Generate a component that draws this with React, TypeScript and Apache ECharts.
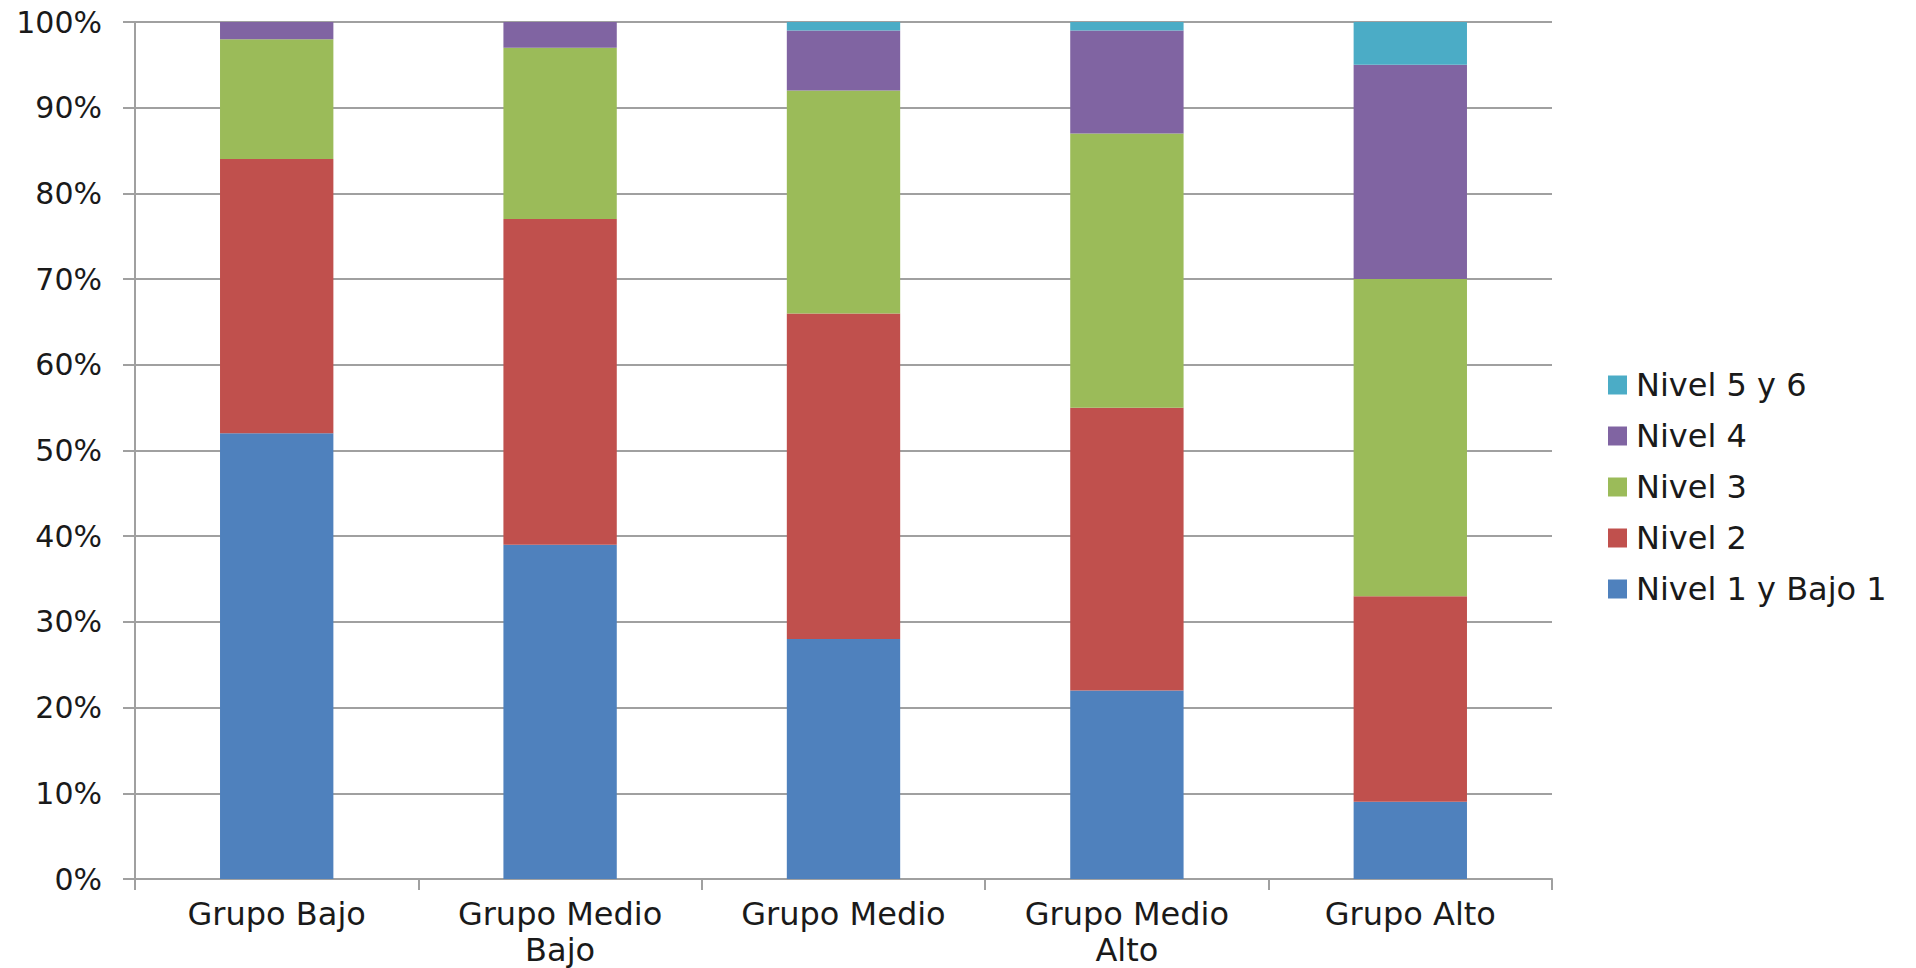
import React, { useEffect, useRef } from "react";
import * as echarts from "echarts";

const categories = ["Grupo Bajo", "Grupo Medio\nBajo", "Grupo Medio", "Grupo Medio\nAlto", "Grupo Alto"];
const seriesNames = ["Nivel 1 y Bajo 1", "Nivel 2", "Nivel 3", "Nivel 4", "Nivel 5 y 6"];
const nivel1 = [52, 39, 28, 22, 9];
const nivel2 = [32, 38, 38, 33, 24];
const nivel3 = [14, 20, 26, 32, 37];
const nivel4 = [2, 3, 7, 12, 25];
const nivel56 = [0, 0, 1, 1, 5];
const colors = ["#4F81BD", "#C0504D", "#9BBB59", "#8064A2", "#4BACC6"];
const yTicks = [0, 10, 20, 30, 40, 50, 60, 70, 80, 90, 100];

const FONT = "DejaVu Sans";

export default function App() {
  const ref = useRef<HTMLDivElement>(null);
  useEffect(() => {
    document.body.style.margin = "0";
    document.body.style.overflow = "hidden";
    const chart = echarts.init(ref.current!, null, { renderer: "svg" });
    const values = [nivel1, nivel2, nivel3, nivel4, nivel56];
    chart.setOption({
      animation: false,
      backgroundColor: "#ffffff",
      grid: { left: 135, right: 364, top: 22, bottom: 89, containLabel: false, outerBoundsMode: "none" },
      legend: {
        data: [...seriesNames].reverse(),
        orient: "vertical",
        left: 1603,
        top: 364,
        itemWidth: 19,
        itemHeight: 19,
        itemGap: 19,
        icon: "rect",
        textStyle: { fontFamily: FONT, fontSize: 32, color: "#1a1a1a", padding: [0, 0, 0, 4] },
      },
      xAxis: {
        type: "category",
        data: categories,
        axisLine: { show: true, lineStyle: { color: "#a0a0a0", width: 2 } },
        axisTick: { show: true, alignWithLabel: false, length: 11, lineStyle: { color: "#a0a0a0", width: 2 } },
        axisLabel: {
          fontFamily: FONT,
          fontSize: 32,
          color: "#1a1a1a",
          margin: 17,
          lineHeight: 36,
          interval: 0,
        },
      },
      yAxis: {
        type: "value",
        min: yTicks[0],
        max: yTicks[yTicks.length - 1],
        interval: 10,
        axisLine: { show: true, lineStyle: { color: "#a0a0a0", width: 2 } },
        axisTick: { show: true, length: 12, lineStyle: { color: "#a0a0a0", width: 2 } },
        splitLine: { show: true, lineStyle: { color: "#a0a0a0", width: 2 } },
        axisLabel: {
          fontFamily: FONT,
          fontSize: 30,
          color: "#1a1a1a",
          margin: 33,
          formatter: (v: number) => v + "%",
        },
      },
      series: seriesNames.map((name, i) => ({
        name,
        type: "bar",
        stack: "total",
        data: values[i],
        barCategoryGap: "60%",
        itemStyle: { color: colors[i] },
      })),
    });
    return () => chart.dispose();
  }, []);
  return (
    <div
      ref={ref}
      style={{ position: "absolute", left: 0, top: 0, width: 1916, height: 968 }}
    />
  );
}
